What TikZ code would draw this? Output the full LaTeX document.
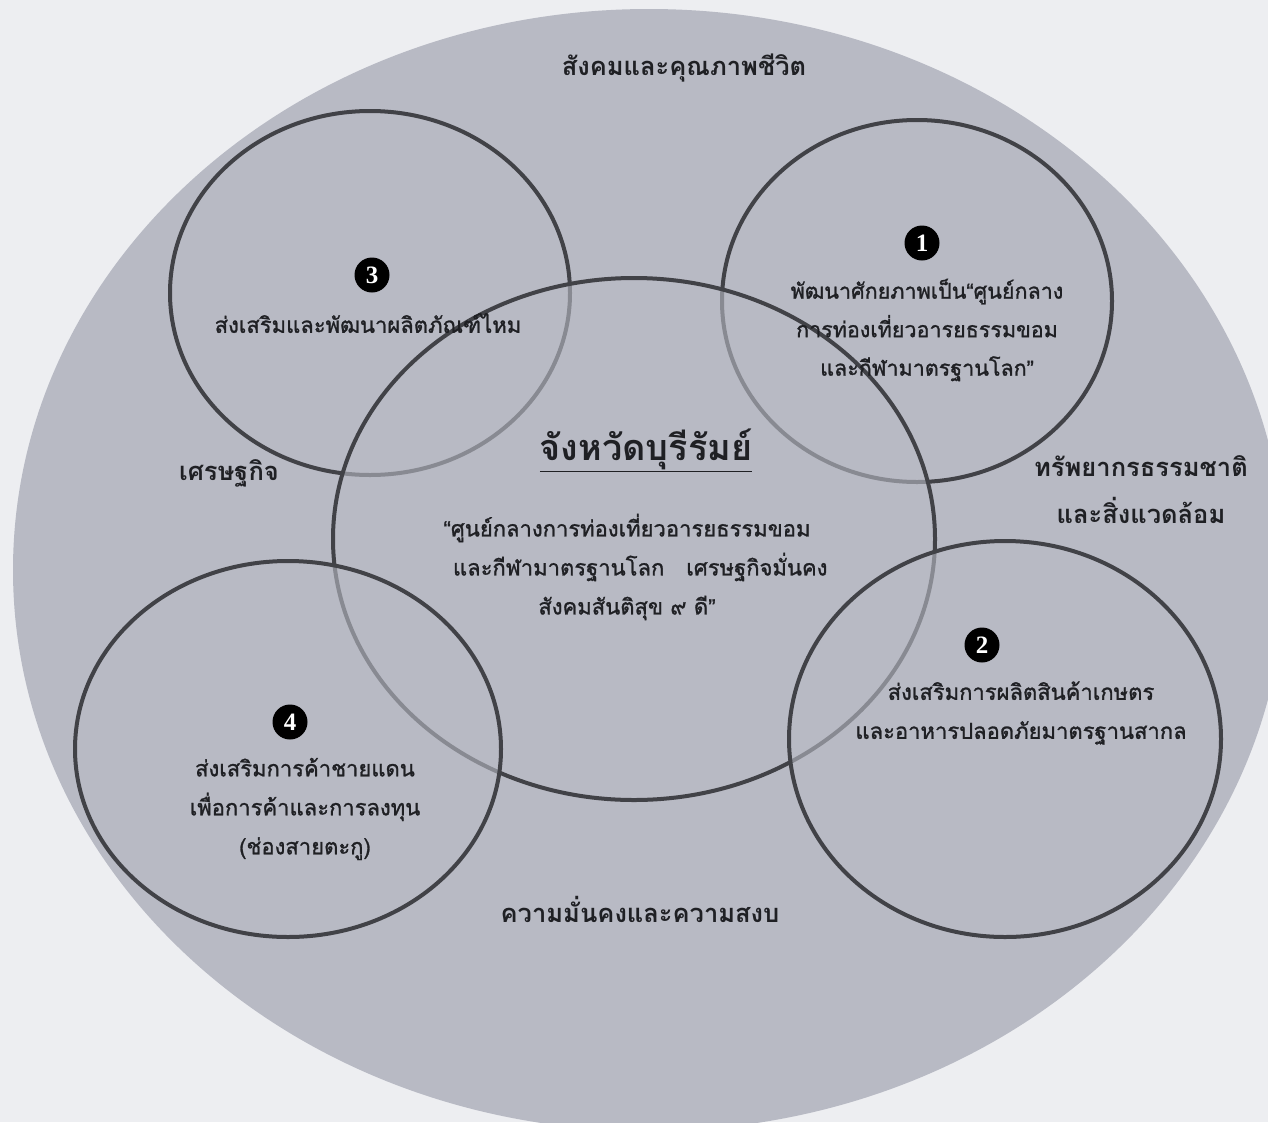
\documentclass[tikz,border=0pt]{standalone}
\usepackage{fontspec}
\usetikzlibrary{shapes.geometric}
\newfontfamily\thaifont[Script=Thai]{Loma}
\newfontfamily\thaimed[Script=Thai,FakeBold=1.2]{Loma}
\newfontfamily\badgefont{Liberation Serif}
\newfontfamily\quotefont[FakeBold=1.2]{Liberation Sans}
\newcommand{\oq}{{\quotefont “}}
\newcommand{\cq}{{\quotefont ”}}
\definecolor{paper}{HTML}{EDEEF1}
\definecolor{disc}{HTML}{B8BAC4}
\definecolor{ring}{HTML}{414247}
\definecolor{ink}{HTML}{1F2024}
\tikzset{
  ringshape/.style={ellipse, draw=ring, line width=4pt, fill=disc, fill opacity=0.6, draw opacity=1, inner sep=0pt},
  badge/.style={circle, fill=black, text=white, inner sep=0pt, minimum size=35pt, font=\badgefont\bfseries\fontsize{25}{25}\selectfont},
  bodytext/.style={text=ink, align=center, font=\thaimed\fontsize{22}{39}\selectfont},
  headtext/.style={text=ink, align=center, font=\thaifont\bfseries\fontsize{25.5}{47}\selectfont}
}
\begin{document}
\begin{tikzpicture}[x=1pt,y=-1pt]
\useasboundingbox (0,0) rectangle (1268,1122);
\fill[paper] (0,0) rectangle (1268,1122);
\begin{scope}
  \clip (0,0) rectangle (1268,1122);
  \fill[disc] (649,570) ellipse [x radius=636, y radius=561];
\end{scope}
% circles, in stacking order
\node[ringshape, minimum width=400pt, minimum height=364pt] (c3) at (370,293) {};
\node[ringshape, minimum width=390pt, minimum height=362pt] (c1) at (917,301) {};
\node[ringshape, minimum width=602pt, minimum height=522pt] (c0) at (634,539) {};
\node[ringshape, minimum width=432pt, minimum height=396pt] (c2) at (1005,739) {};
\node[ringshape, minimum width=426pt, minimum height=376pt] (c4) at (288,749) {};
% outer labels
\node[headtext] (lsoc) at (684,68) {สังคมและคุณภาพชีวิต};
\node[headtext] (leco) at (229,473) {เศรษฐกิจ};
\node[headtext] (lenv) at (1141,490) {ทรัพยากรธรรมชาติ\\และสิ่งแวดล้อม};
\node[headtext] (lsec) at (640,909) {ความมั่นคงและความสงบ};
% badges
\node[badge] (b1) at (922,243) {1};
\node[badge] (b2) at (982,645) {2};
\node[badge] (b3) at (372,275) {3};
\node[badge] (b4) at (290,722) {4};
% circle texts
\node[bodytext] (t3) at (368,323) {ส่งเสริมและพัฒนาผลิตภัณฑ์ไหม};
\node[bodytext, font=\thaimed\fontsize{21.5}{38.5}\selectfont] (t1) at (927,330) {พัฒนาศักยภาพเป็น\oq ศูนย์กลาง\\การท่องเที่ยวอารยธรรมขอม\\และกีฬามาตรฐานโลก\cq};
\node[bodytext] (t2) at (1021,713) {ส่งเสริมการผลิตสินค้าเกษตร\\และอาหารปลอดภัยมาตรฐานสากล};
\node[bodytext] (t4) at (305,809) {ส่งเสริมการค้าชายแดน\\เพื่อการค้าและการลงทุน\\(ช่องสายตะกู)};
\node[text=ink, font=\thaifont\bfseries\fontsize{36}{36}\selectfont] (tt) at (646,450) {\underline{จังหวัดบุรีรัมย์}};
\node[bodytext] (tc) at (627,567) {\oq ศูนย์กลางการท่องเที่ยวอารยธรรมขอม\\\hspace*{1.2em}และกีฬามาตรฐานโลก\quad เศรษฐกิจมั่นคง\\สังคมสันติสุข ๙ ดี\cq};
\end{tikzpicture}
\end{document}
